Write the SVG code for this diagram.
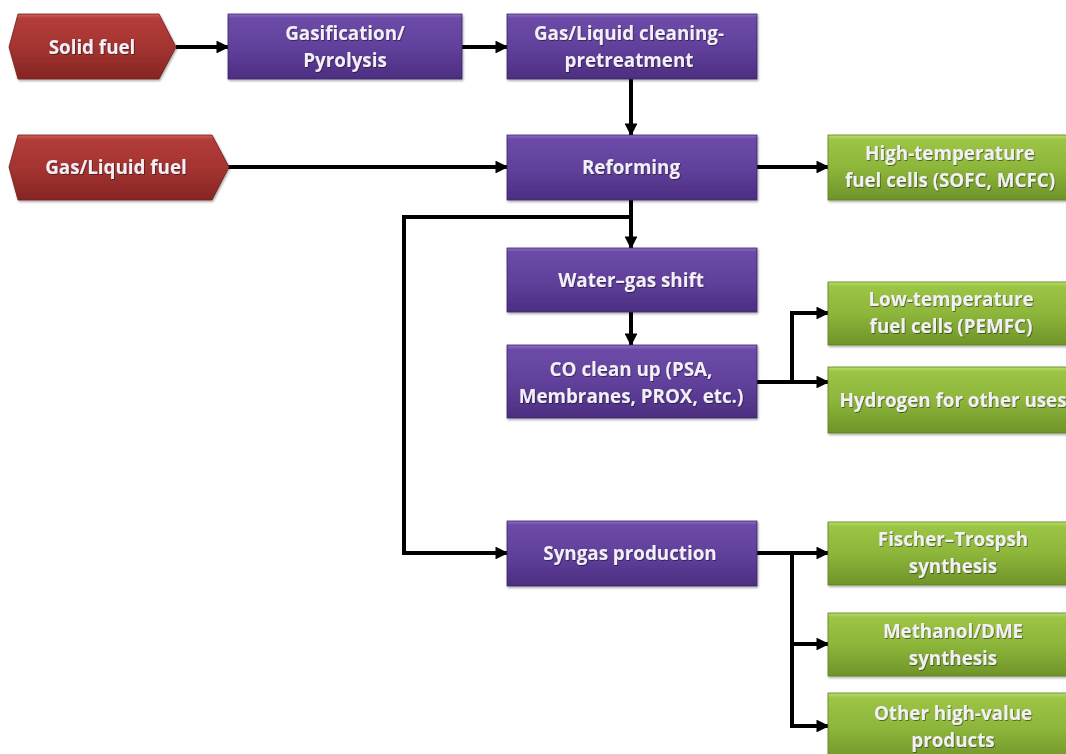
<svg xmlns="http://www.w3.org/2000/svg" width="1066" height="754" viewBox="0 0 1066 754">
  <defs>
    <linearGradient id="gPurple" x1="0" y1="0" x2="0" y2="1">
      <stop offset="0" stop-color="#8e70c8"/>
      <stop offset="0.06" stop-color="#6c4ba8"/>
      <stop offset="0.5" stop-color="#61419c"/>
      <stop offset="1" stop-color="#4c2e80"/>
    </linearGradient>
    <linearGradient id="gRed" x1="0" y1="0" x2="0" y2="1">
      <stop offset="0" stop-color="#d0605c"/>
      <stop offset="0.07" stop-color="#b33c39"/>
      <stop offset="0.5" stop-color="#a43431"/>
      <stop offset="1" stop-color="#862523"/>
    </linearGradient>
    <linearGradient id="gGreen" x1="0" y1="0" x2="0" y2="1">
      <stop offset="0" stop-color="#bde06c"/>
      <stop offset="0.07" stop-color="#9cc445"/>
      <stop offset="0.5" stop-color="#8db63b"/>
      <stop offset="1" stop-color="#6e9429"/>
    </linearGradient>
    <filter id="shade" x="-5%" y="-10%" width="115%" height="130%">
      <feDropShadow dx="1" dy="1.5" stdDeviation="1.2" flood-color="#000" flood-opacity="0.35"/>
    </filter>
    <filter id="tshade" x="-5%" y="-20%" width="110%" height="150%">
      <feDropShadow dx="0.8" dy="1" stdDeviation="0.6" flood-color="#000" flood-opacity="0.45"/>
    </filter>
    <marker id="arrow" viewBox="0 0 10 10" refX="9" refY="5" markerWidth="3.2" markerHeight="3.2" orient="auto" markerUnits="strokeWidth">
      <path d="M0,0 L10,5 L0,10 z" fill="#000"/>
    </marker>
  </defs>
  <style>
    .purple { fill: url(#gPurple); stroke: #3d2466; stroke-width: 0.8; filter: url(#shade); }
    .red { fill: url(#gRed); stroke: #6e1c1a; stroke-width: 0.8; filter: url(#shade); }
    .green { fill: url(#gGreen); stroke: #5a7e20; stroke-width: 0.8; filter: url(#shade); }
    text { font-family: "Open Sans", "Liberation Sans", sans-serif; font-weight: bold; font-size: 18.8px; fill: #f2eff6; text-anchor: middle; dominant-baseline: central; filter: url(#tshade); }
    .wire { fill: none; stroke: #000; stroke-width: 4; stroke-linejoin: miter; }
    .arr { marker-end: url(#arrow); }
  </style>

  <!-- connectors -->
  <g id="connectors">
    <path class="wire arr" d="M176,47 H228"/>
    <path class="wire arr" d="M462,47 H507"/>
    <path class="wire arr" d="M631,79 V135"/>
    <path class="wire arr" d="M228,167 H507"/>
    <path class="wire arr" d="M757,167 H828"/>
    <path class="wire arr" d="M631,200 V248"/>
    <path class="wire arr" d="M631,217 H404 V553 H507"/>
    <path class="wire arr" d="M631,312 V345"/>
    <path class="wire arr" d="M757,382 H828"/>
    <path class="wire arr" d="M792,382 V313 H828"/>
    <path class="wire arr" d="M757,553 H828"/>
    <path class="wire arr" d="M792,553 V726 H828"/>
    <path class="wire arr" d="M792,644 H828"/>
  </g>

  <!-- inputs -->
  <g id="solid-fuel">
    <polygon class="red" points="9,47 18,14 159,14 176,47 159,79 18,79"/>
    <text x="92" y="47">Solid fuel</text>
  </g>
  <g id="gas-liquid-fuel">
    <polygon class="red" points="9,167 18,135 212,135 229,167 212,200 18,200"/>
    <text x="116" y="167">Gas/Liquid fuel</text>
  </g>

  <!-- processing steps -->
  <g id="gasification">
    <rect class="purple" x="228" y="14" width="234" height="65"/>
    <text x="345" y="33">Gasification/</text>
    <text x="345" y="60">Pyrolysis</text>
  </g>
  <g id="cleaning">
    <rect class="purple" x="507" y="14" width="250" height="65"/>
    <text x="629" y="33">Gas/Liquid cleaning-</text>
    <text x="629" y="60">pretreatment</text>
  </g>
  <g id="reforming">
    <rect class="purple" x="507" y="135" width="250" height="65"/>
    <text x="631" y="167">Reforming</text>
  </g>
  <g id="water-gas-shift">
    <rect class="purple" x="507" y="248" width="250" height="64"/>
    <text x="631" y="280">Water–gas shift</text>
  </g>
  <g id="co-cleanup">
    <rect class="purple" x="507" y="345" width="250" height="73"/>
    <text x="631" y="369">CO clean up (PSA,</text>
    <text x="631" y="396">Membranes, PROX, etc.)</text>
  </g>
  <g id="syngas">
    <rect class="purple" x="507" y="521" width="250" height="65"/>
    <text x="630" y="553">Syngas production</text>
  </g>

  <!-- end uses -->
  <g id="ht-fuel-cells">
    <rect class="green" x="828" y="135" width="250" height="65"/>
    <text x="950" y="153">High-temperature</text>
    <text x="950" y="180">fuel cells (SOFC, MCFC)</text>
  </g>
  <g id="lt-fuel-cells">
    <rect class="green" x="828" y="282" width="250" height="63"/>
    <text x="951" y="299">Low-temperature</text>
    <text x="951" y="326">fuel cells (PEMFC)</text>
  </g>
  <g id="hydrogen">
    <rect class="green" x="828" y="367" width="250" height="66"/>
    <text x="953" y="400">Hydrogen for other uses</text>
  </g>
  <g id="fischer-tropsch">
    <rect class="green" x="828" y="522" width="250" height="63"/>
    <text x="953" y="539">Fischer–Trospsh</text>
    <text x="953" y="566">synthesis</text>
  </g>
  <g id="methanol">
    <rect class="green" x="828" y="613" width="250" height="63"/>
    <text x="953" y="631">Methanol/DME</text>
    <text x="953" y="658">synthesis</text>
  </g>
  <g id="high-value">
    <rect class="green" x="828" y="693" width="250" height="70"/>
    <text x="953" y="713">Other high-value</text>
    <text x="953" y="740">products</text>
  </g>
</svg>
